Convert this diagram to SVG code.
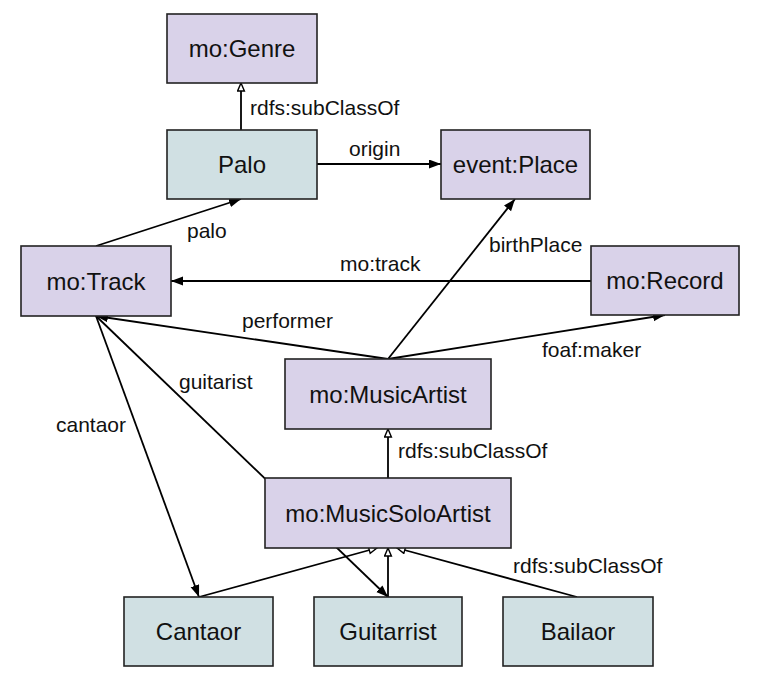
<svg xmlns="http://www.w3.org/2000/svg" width="759" height="686" viewBox="0 0 759 686">
<style>
.bg{fill:#ffffff}
.p rect{fill:#d9d2e9;stroke:#222;stroke-width:1.6}
.t rect{fill:#d0e0e3;stroke:#222;stroke-width:1.6}
.n text{font-family:"Liberation Sans",Arial,sans-serif;font-size:24px;fill:#111;text-anchor:middle}
.e line{stroke:#000;stroke-width:1.8;fill:none}
.e .a{marker-end:url(#fa)}
.e .h{marker-end:url(#ha)}
.lbl{font-family:"Liberation Sans",Arial,sans-serif;font-size:21px;fill:#111}
</style>
<defs>
<marker id="fa" markerUnits="userSpaceOnUse" markerWidth="13" markerHeight="10" refX="12" refY="4.5" orient="auto">
<path d="M0,0 L12,4.5 L0,9 z" fill="#000"/>
</marker>
<marker id="ha" markerUnits="userSpaceOnUse" markerWidth="11" markerHeight="10" refX="9" refY="4" orient="auto">
<path d="M1,0.6 L9,4 L1,7.4 z" fill="#fff" stroke="#000" stroke-width="1.4"/>
</marker>
</defs>
<rect class="bg" x="0" y="0" width="759" height="686"/>
<g id="connectors" class="e">
<line class="h" x1="241" y1="130" x2="241" y2="83"/>
<line class="a" x1="317" y1="164" x2="441" y2="164"/>
<line class="a" x1="96" y1="246" x2="241" y2="199"/>
<line class="a" x1="591" y1="281" x2="171" y2="281"/>
<line class="a" x1="388" y1="359" x2="96" y2="316"/>
<line class="a" x1="388" y1="359" x2="515" y2="199"/>
<line class="a" x1="388" y1="359" x2="665" y2="315"/>
<line class="a" x1="96" y1="316" x2="199" y2="597"/>
<line class="a" x1="96" y1="316" x2="388" y2="597"/>
<line class="h" x1="388" y1="478" x2="388" y2="429"/>
<line class="h" x1="199" y1="597" x2="377" y2="548"/>
<line class="h" x1="388" y1="597" x2="388" y2="548"/>
<line class="h" x1="577" y1="597" x2="397" y2="548"/>
<text class="lbl" x="250" y="115">rdfs:subClassOf</text>
<text class="lbl" x="349" y="156">origin</text>
<text class="lbl" x="187" y="238">palo</text>
<text class="lbl" x="340" y="271">mo:track</text>
<text class="lbl" x="489" y="252">birthPlace</text>
<text class="lbl" x="242" y="328">performer</text>
<text class="lbl" x="542" y="357">foaf:maker</text>
<text class="lbl" x="179" y="389">guitarist</text>
<text class="lbl" x="56" y="432">cantaor</text>
<text class="lbl" x="398" y="458">rdfs:subClassOf</text>
<text class="lbl" x="513" y="573">rdfs:subClassOf</text>
</g>
<g id="genre" class="n p"><rect x="167" y="14" width="150" height="69"/><text x="242" y="57">mo:Genre</text></g>
<g id="palo" class="n t"><rect x="167" y="130" width="150" height="69"/><text x="242" y="173">Palo</text></g>
<g id="place" class="n p"><rect x="441" y="130" width="149" height="69"/><text x="515.5" y="173">event:Place</text></g>
<g id="track" class="n p"><rect x="21" y="246" width="150" height="70"/><text x="96" y="289.5">mo:Track</text></g>
<g id="record" class="n p"><rect x="591" y="246" width="148" height="69"/><text x="665" y="289">mo:Record</text></g>
<g id="musicartist" class="n p"><rect x="285" y="359" width="206" height="70"/><text x="388" y="402.5">mo:MusicArtist</text></g>
<g id="musicsoloartist" class="n p"><rect x="265" y="478" width="246" height="70"/><text x="388" y="521.5">mo:MusicSoloArtist</text></g>
<g id="cantaor" class="n t"><rect x="124" y="597" width="149" height="69"/><text x="198.5" y="640">Cantaor</text></g>
<g id="guitarrist" class="n t"><rect x="314" y="597" width="148" height="69"/><text x="388" y="640">Guitarrist</text></g>
<g id="bailaor" class="n t"><rect x="503" y="597" width="150" height="69"/><text x="578" y="640">Bailaor</text></g>
</svg>
